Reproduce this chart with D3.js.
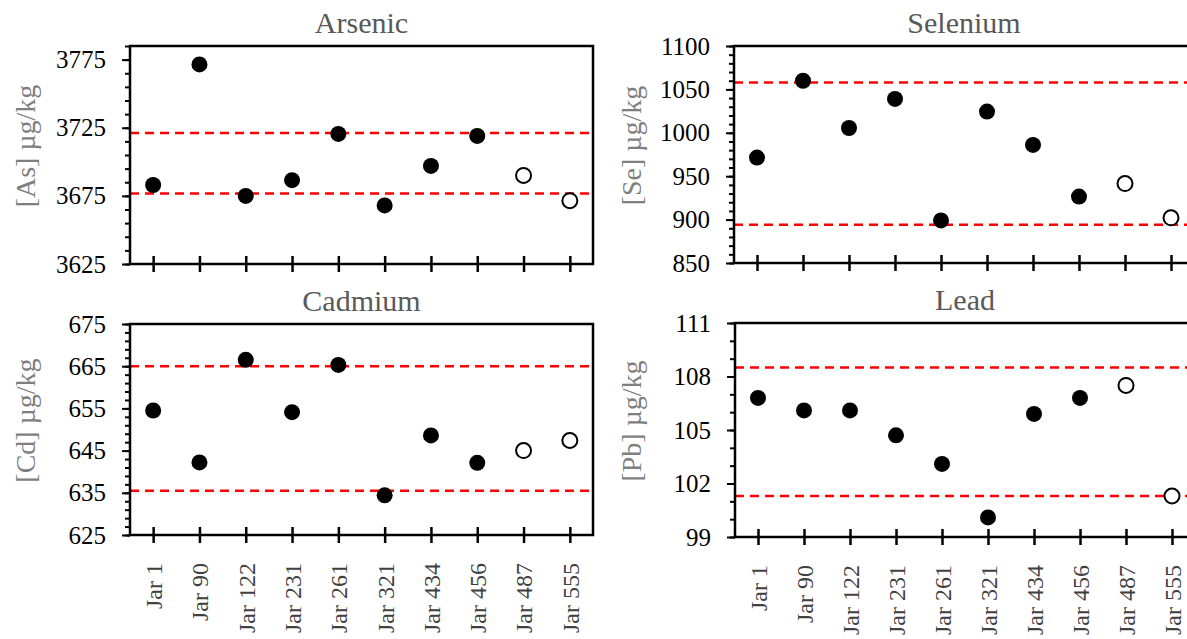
<!DOCTYPE html>
<html>
<head>
  <meta charset="utf-8">
  <title>Jar concentrations</title>
  <script src="https://d3js.org/d3.v7.min.js"></script>
  <style>
    body { margin: 0; background: #fff; }
    text { font-family: "Liberation Serif", "Times New Roman", serif; }
  </style>
</head>
<body>
<script>

  // jar labels along the x axis
  var jars = ["Jar 1", "Jar 90", "Jar 122", "Jar 231", "Jar 261", "Jar 321", "Jar 434", "Jar 456", "Jar 487", "Jar 555"];
  // jars drawn with hollow markers
  var openJars = ["Jar 487", "Jar 555"];

  // measured values (µg/kg)
  var arsenic  = [3683, 3771.5, 3675, 3686.5, 3720.5, 3668, 3697, 3719, 3690, 3671.5];
  var selenium = [971.5, 1060, 1005.5, 1039, 899, 1024.5, 986, 926.5, 941.5, 902];
  var cadmium  = [654.5, 642.2, 666.5, 654.1, 665.3, 634.4, 648.6, 642.1, 645, 647.4];
  var lead     = [106.8, 106.1, 106.1, 104.7, 103.1, 100.1, 105.9, 106.8, 107.5, 101.3];

  // lower / upper limit lines (red dashes)
  var arsenicLimits  = [3676.8, 3721.2];
  var seleniumLimits = [894, 1058];
  var cadmiumLimits  = [635.5, 665];
  var leadLimits     = [101.3, 108.5];

  // y axis: [min, max, major step, minor step]
  var arsenicAxis  = [3625, 3785, 50, 10];
  var seleniumAxis = [850, 1100, 50, 10];
  var cadmiumAxis  = [625, 675, 10, 2];
  var leadAxis     = [99, 111, 3, 1];

  var width = 1187, height = 639;

  var svg = d3.select("body").append("svg")
      .attr("width", width)
      .attr("height", height);

  // panel boxes (left, top, right, bottom)
  var panels = [
    {title: "Arsenic",  label: "[As] µg/kg", values: arsenic,  limits: arsenicLimits,  axis: arsenicAxis,  box: [130, 46, 593, 264], labelX: 25,  xLabels: false},
    {title: "Selenium", label: "[Se] µg/kg", values: selenium, limits: seleniumLimits, axis: seleniumAxis, box: [734, 46, 1194, 263], labelX: 631, xLabels: false},
    {title: "Cadmium",  label: "[Cd] µg/kg", values: cadmium,  limits: cadmiumLimits,  axis: cadmiumAxis,  box: [130, 324, 593, 535], labelX: 25,  xLabels: true},
    {title: "Lead",     label: "[Pb] µg/kg", values: lead,     limits: leadLimits,     axis: leadAxis,     box: [735, 323, 1195, 537], labelX: 631, xLabels: true}
  ];

  panels.forEach(drawPanel);

  function drawPanel(p) {
    var left = p.box[0], top = p.box[1], right = p.box[2], bottom = p.box[3];
    var w = right - left, h = bottom - top;

    var x = d3.scalePoint().domain(jars).range([0, w]).padding(0.5);
    var y = d3.scaleLinear().domain([p.axis[0], p.axis[1]]).range([h, 0]);

    var g = svg.append("g").attr("transform", "translate(" + left + "," + top + ")");

    // title
    svg.append("text")
      .attr("x", left + w / 2)
      .attr("y", top - 13)
      .attr("text-anchor", "middle")
      .style("font-size", "30px")
      .style("fill", "#595959")
      .text(p.title);

    // y axis title
    svg.append("text")
      .attr("transform", "translate(" + p.labelX + "," + (top + h / 2 - 9) + ") rotate(-90)")
      .attr("text-anchor", "middle")
      .attr("dy", "0.35em")
      .style("font-size", "28px")
      .style("fill", "#7f7f7f")
      .text(p.label);

    // limit lines
    g.selectAll(".limit")
      .data(p.limits)
      .enter().append("line")
      .attr("class", "limit")
      .attr("x1", 0)
      .attr("x2", w)
      .attr("y1", function(d) { return y(d); })
      .attr("y2", function(d) { return y(d); })
      .style("stroke", "#ff0000")
      .style("stroke-width", 2.5)
      .style("stroke-dasharray", "9,6");

    // minor y ticks
    var minor = d3.range(p.axis[0], p.axis[1] + p.axis[3] / 2, p.axis[3]);
    g.append("g")
      .call(d3.axisLeft(y).tickValues(minor).tickSize(5).tickFormat(""))
      .call(function(a) { a.select(".domain").remove(); })
      .selectAll("line").style("stroke", "#000").style("stroke-width", 2);

    // major y ticks + labels
    var major = d3.range(p.axis[0], p.axis[1] + 0.001, p.axis[2]);
    var ya = g.append("g")
      .call(d3.axisLeft(y).tickValues(major).tickFormat(d3.format("d"))
        .tickSizeInner(8).tickSizeOuter(0).tickPadding(16));
    ya.select(".domain").remove();
    ya.selectAll("line").style("stroke", "#000").style("stroke-width", 2);
    ya.selectAll("text")
      .style("font-size", "25px")
      .style("fill", "#000");

    // x ticks crossing the axis
    var xa = g.append("g")
      .attr("transform", "translate(0," + h + ")")
      .call(d3.axisBottom(x).tickSizeInner(8).tickSizeOuter(0).tickPadding(20));
    xa.select(".domain").remove();
    xa.selectAll("line").attr("y1", -8).style("stroke", "#000").style("stroke-width", 2.5);
    if (p.xLabels) {
      xa.selectAll("text")
        .attr("transform", "rotate(-90)")
        .attr("text-anchor", "end")
        .attr("x", -28)
        .attr("y", 0)
        .attr("dy", "0.35em")
        .style("font-size", "24px")
        .style("fill", "#404040");
    } else {
      xa.selectAll("text").remove();
    }

    // plot border
    g.append("rect")
      .attr("width", w)
      .attr("height", h)
      .style("fill", "none")
      .style("stroke", "#000")
      .style("stroke-width", 2.5);

    // markers
    g.selectAll(".pt")
      .data(p.values)
      .enter().append("circle")
      .attr("class", "pt")
      .attr("cx", function(d, i) { return x(jars[i]); })
      .attr("cy", function(d) { return y(d); })
      .attr("r", function(d, i) { return openJars.indexOf(jars[i]) >= 0 ? 7.5 : 8; })
      .style("fill", function(d, i) { return openJars.indexOf(jars[i]) >= 0 ? "#fff" : "#000"; })
      .style("stroke", "#000")
      .style("stroke-width", function(d, i) { return openJars.indexOf(jars[i]) >= 0 ? 2 : 0; });
  }

</script>
</body>
</html>
